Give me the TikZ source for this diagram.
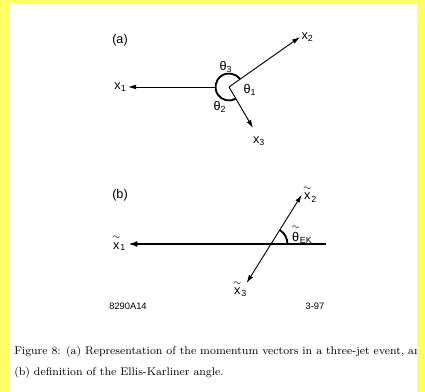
\documentclass[tikz,border=0pt]{standalone}
\usepackage{amsmath}
\usepackage{fontspec}
\usepackage{tikz}
\usetikzlibrary{arrows.meta,positioning,calc}
\newfontfamily\figsans{Liberation Sans}
\definecolor{framec}{RGB}{255,255,102}
\newcommand{\tld}[1]{\ensuremath{\overset{\sim}{\hbox{#1}}}}
\newcommand{\vx}[1]{x\textsubscript{#1}}
\newcommand{\tvx}[1]{\tld{x}\textsubscript{#1}}
\newcommand{\ang}[1]{θ\textsubscript{#1}}

\begin{document}
\begin{tikzpicture}[x=0.75pt, y=0.75pt,
  lab/.style={font=\figsans\fontsize{9.5}{11}\selectfont, inner sep=1pt},
  tag/.style={font=\figsans\fontsize{7}{8}\selectfont, inner sep=0pt},
  capt/.style={font=\fontsize{8.35}{10}\selectfont, inner sep=0pt},
  vec/.style={line width=0.7pt, -{Latex[length=6pt,width=3.6pt]}},
  angarc/.style={line width=1.4pt}]
  % page and frame
  \fill[framec] (0,0) rectangle (425,392);
  \fill[white] (9,0) rectangle (417,389);
  \useasboundingbox (0,0) rectangle (425,392);
  % (a) three momentum vectors
  \node[lab] (tagA) at (120,352) {(a)};
  \coordinate (oa) at (229,305);
  \coordinate (x1s) at ($(oa)+(180:13.5)$);
  \coordinate (x1e) at (128,305);
  \coordinate (x2e) at (300,355);
  \coordinate (x3e) at (253,264);
  \draw[vec] (x1s) -- (x1e);
  \draw[vec] (oa) -- (x2e);
  \draw[vec] (oa) -- (x3e);
  \draw[angarc] ($(oa)+(35:13.5)$) arc[start angle=35, end angle=300, radius=13.5];
  \node[lab, left=0pt of x1e] (x1) {\vx{1}};
  \node[lab, right=0pt of x2e] (x2) {\vx{2}};
  \node[lab] (x3) at (259,251) {\vx{3}};
  \node[lab] (th3) at (226,325) {\ang{3}};
  \node[lab] (th1) at (250,302) {\ang{1}};
  \node[lab] (th2) at (220,285) {\ang{2}};
  % (b) Ellis-Karliner angle
  \node[lab] (tagB) at (120,197) {(b)};
  \coordinate (xr) at (326,148);
  \coordinate (xl) at (128,148);
  \coordinate (cb) at (271,148);
  \coordinate (t2) at ($(cb)+(58:58)$);
  \coordinate (t3) at ($(cb)+(238:46)$);
  \draw[line width=1.8pt, -{Latex[length=7pt,width=4.5pt]}] (xr) -- (xl);
  \draw[vec, {Latex[length=6pt,width=3.6pt]}-{Latex[length=6pt,width=3.6pt]}] (t3) -- (t2);
  \draw[angarc] ($(cb)+(0:16.5)$) arc[start angle=0, end angle=58, radius=16.5];
  \node[lab] (tx1) at (119,149) {\tvx{1}};
  \node[lab] (tx2) at (310,198) {\tvx{2}};
  \node[lab] (tx3) at (240,103) {\tvx{3}};
  \node[lab] (tek) at (302,158) {\tld{θ}\textsubscript{EK}};
  \node[tag] (fignum) at (128,86) {8290A14};
  \node[tag] (date) at (315,86) {3-97};
  % caption
  \node[capt, anchor=base west] (cap1) at (14,37) {Figure 8: (a) Representation of the momentum vectors in a three-jet event, and};
  \node[capt, anchor=base west] (cap2) at (14,16) {(b) definition of the Ellis-Karliner angle.};
  \fill[framec] (417,0) rectangle (425,392);
\end{tikzpicture}
\end{document}
